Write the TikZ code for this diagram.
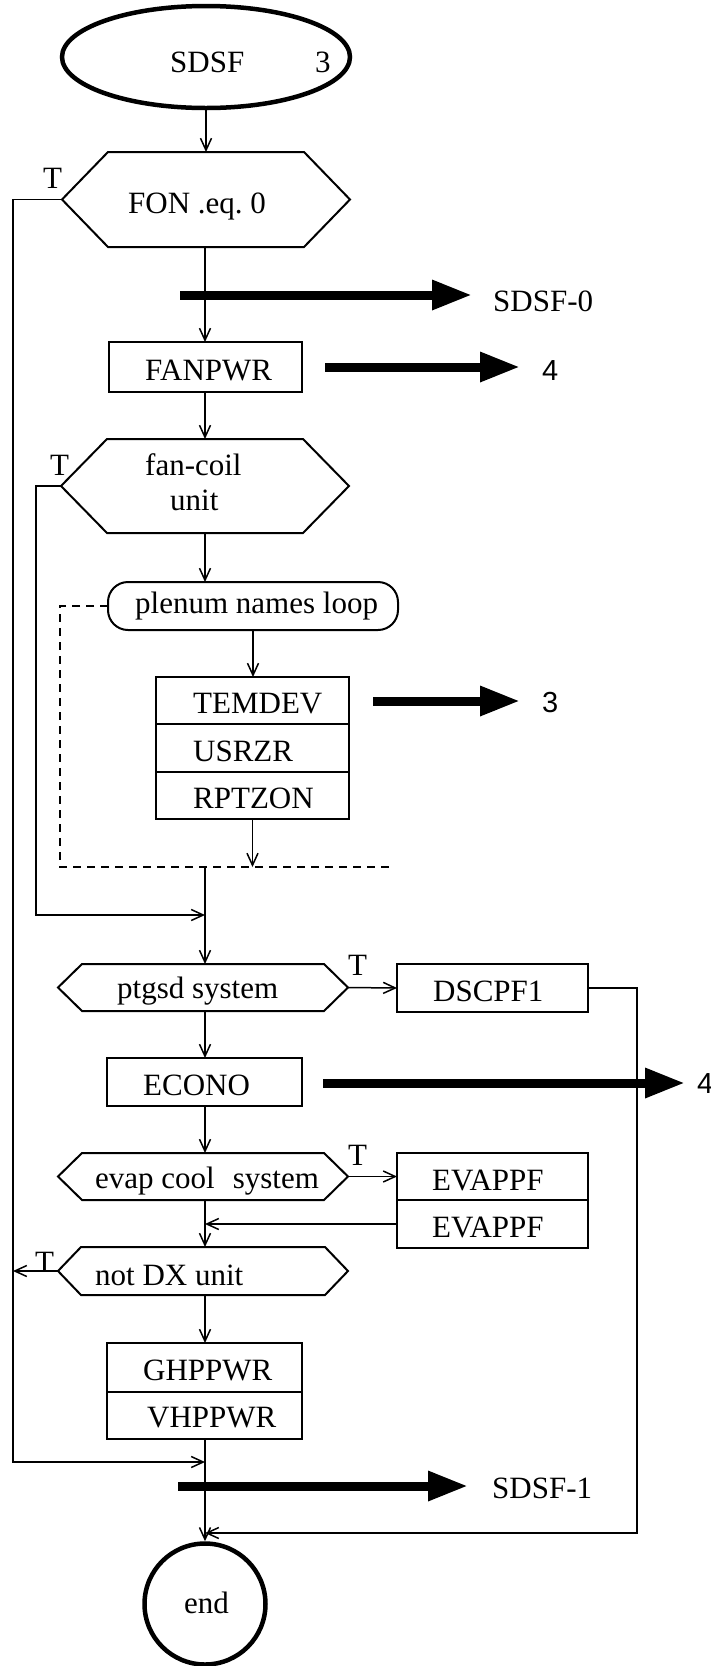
\documentclass[tikz,border=0pt]{standalone}
\usepackage{fontspec}
\setmainfont{Liberation Serif}
\newfontfamily\digsans{Liberation Sans}
\usetikzlibrary{arrows.meta,shapes.geometric}
\newcommand\hexdraw[2]{\draw[hexline] (#1.west) -- ([xshift=#2]#1.north west) -- ([xshift=-#2]#1.north east) -- (#1.east) -- ([xshift=-#2]#1.south east) -- ([xshift=#2]#1.south west) -- cycle;}
\begin{document}
\begin{tikzpicture}[x=1pt,y=-1pt,
  txt/.style={anchor=base west, inner sep=0pt, font=\fontsize{31}{37}\selectfont},
  dig/.style={anchor=base west, inner sep=0pt, font=\digsans\fontsize{29}{35}\selectfont},
  box/.style={draw, line width=2pt, inner sep=0pt, outer sep=0pt},
  hexbase/.style={draw=none, inner sep=0pt, outer sep=0pt},
  hexline/.style={line width=2pt, line join=miter},
  arr/.style={line width=1.5pt, -{Straight Barb[length=12pt,width=11pt,line width=1.5pt]}},
  dashline/.style={line width=2pt, dash pattern=on 8pt off 6pt},
  fat/.style={line width=9pt, -{Triangle[length=40pt,width=28pt]}},
  term/.style={draw, line width=4.5pt, inner sep=0pt},
]
\useasboundingbox (0,0) rectangle (711,1666);
\coordinate (col) at (205,0);

% start terminal
\node[term, ellipse, minimum width=288pt, minimum height=102pt] (start) at (206,57) {};
\node[txt] (startlab) at (170,72) {SDSF};
\node[txt] (startnum) at (315,72) {3};

% FON .eq. 0
\node[hexbase, minimum width=288pt, minimum height=95pt] (fon) at (206,199.5) {};
\hexdraw{fon}{46pt}
\node[txt] (fontxt) at (128,213) {FON .eq.\ 0};
\node[txt] (t1) at (43,188) {T};

% SDSF-0
\coordinate (a0s) at (180,295);
\coordinate (a0e) at (472,295);
\draw[fat] (a0s) -- (a0e);
\node[txt] (sdsf0) at (493,311) {SDSF-0};

% FANPWR
\node[box, minimum width=193pt, minimum height=50pt] (fanpwr) at (205.5,367) {};
\node[txt] (fanpwrtxt) at (145,380) {FANPWR};
\coordinate (a1s) at (325,367);
\coordinate (a1e) at (520,367);
\draw[fat] (a1s) -- (a1e);
\node[dig] (four1) at (542,380) {4};

% fan-coil unit
\node[hexbase, minimum width=288pt, minimum height=94pt] (fancoil) at (205,486) {};
\hexdraw{fancoil}{46pt}
\node[txt] (fctxt1) at (145,475) {fan-coil};
\node[txt] (fctxt2) at (170,510) {unit};
\node[txt] (t2) at (50,475) {T};

% plenum names loop
\node[box, rounded corners=20pt, minimum width=290pt, minimum height=48pt] (plenum) at (253,606) {};
\node[txt] (plentxt) at (135,613) {plenum names loop};

% TEMDEV / USRZR / RPTZON
\node[box, minimum width=193pt, minimum height=47pt] (temdev) at (252.5,700.5) {};
\node[box, minimum width=193pt, minimum height=48pt] (usrzr) at (252.5,748) {};
\node[box, minimum width=193pt, minimum height=47pt] (rptzon) at (252.5,795.5) {};
\node[txt] (temdevtxt) at (193,713) {TEMDEV};
\node[txt] (usrzrtxt) at (193,761) {USRZR};
\node[txt] (rptzontxt) at (193,808) {RPTZON};
\coordinate (a2s) at (373,701);
\coordinate (a2e) at (520,701);
\draw[fat] (a2s) -- (a2e);
\node[dig] (three1) at (542,712) {3};

% dashed loop
\coordinate (dashc) at (60,867);
\coordinate (dashend) at (392,867);
\draw[dashline] (plenum.west) -| (dashc) -- (dashend);

% ptgsd system
\node[hexbase, minimum width=290pt, minimum height=47pt] (ptgsd) at (203,987.5) {};
\hexdraw{ptgsd}{24pt}
\node[txt] (ptgsdtxt) at (117,998) {ptgsd system};
\node[txt] (t3) at (348,975) {T};
\node[box, minimum width=191pt, minimum height=48pt] (dscpf1) at (492.5,988) {};
\node[txt] (dscpf1txt) at (433,1001) {DSCPF1};

% ECONO
\node[box, minimum width=195pt, minimum height=48pt] (econo) at (204.5,1082) {};
\node[txt] (econotxt) at (143,1095) {ECONO};
\coordinate (a3s) at (323,1083);
\coordinate (a3e) at (685,1083);
\draw[fat] (a3s) -- (a3e);
\node[dig] (four2) at (697,1093) {4};

% evap cool system
\node[hexbase, minimum width=290pt, minimum height=47pt] (evap) at (203,1176.5) {};
\hexdraw{evap}{24pt}
\node[txt] (evaptxt) at (95,1188) {evap cool\hspace{18pt}system};
\node[txt] (t4) at (348,1165) {T};
\node[box, minimum width=191pt, minimum height=47pt] (evappf1) at (492.5,1176.5) {};
\node[box, minimum width=191pt, minimum height=48pt] (evappf2) at (492.5,1224) {};
\node[txt] (ev1txt) at (432,1190) {EVAPPF};
\node[txt] (ev2txt) at (432,1237) {EVAPPF};

% not DX unit
\node[hexbase, minimum width=290pt, minimum height=48pt] (notdx) at (203,1271) {};
\hexdraw{notdx}{23pt}
\node[txt] (notdxtxt) at (95,1285) {not DX unit};
\node[txt] (t5) at (35,1272) {T};

% GHPPWR / VHPPWR
\node[box, minimum width=195pt, minimum height=49pt] (ghppwr) at (204.5,1367.5) {};
\node[box, minimum width=195pt, minimum height=47pt] (vhppwr) at (204.5,1415.5) {};
\node[txt] (ghtxt) at (143,1380) {GHPPWR};
\node[txt] (vhtxt) at (147,1427) {VHPPWR};

% SDSF-1
\coordinate (a4s) at (178,1486);
\coordinate (a4e) at (468,1486);
\draw[fat] (a4s) -- (a4e);
\node[txt] (sdsf1) at (492,1498) {SDSF-1};

% end
\node[term, circle, minimum size=121pt] (endc) at (205,1604) {};
\node[txt] (endtxt) at (184,1613) {end};

% junction coordinates
\coordinate (fcl) at (36,915);
\coordinate (fcj) at (205,915);
\coordinate (ol) at (13,1462);
\coordinate (oj) at (205,1462);
\coordinate (rr) at (637,1533);
\coordinate (rj) at (205,1533);

% connectors
\draw[arr] (start.south) -- (start.south |- fon.north);
\draw[arr] (col |- fon.south) -- (col |- fanpwr.north);
\draw[arr] (col |- fanpwr.south) -- (col |- fancoil.north);
\draw[arr] (col |- fancoil.south) -- (col |- plenum.north);
\draw[arr] (plenum.south) -- (plenum.south |- temdev.north);
\draw[arr] (rptzon.south) -- (rptzon.south |- dashend);
\draw[arr] (col |- dashend) -- (col |- ptgsd.north);
\draw[arr] (fancoil.west) -| (fcl) -- (fcj);
\draw[arr] (fon.west) -| (ol) -- (oj);
\draw[arr] (ptgsd.east) -- (dscpf1.west);
\draw[arr] (dscpf1.east) -| (rr) -- (rj);
\draw[arr] (col |- ptgsd.south) -- (col |- econo.north);
\draw[arr] (col |- econo.south) -- (col |- evap.north);
\draw[arr] (evap.east) -- (evappf1.west);
\draw[arr] (evappf2.west) -- (evappf2.west -| col);
\draw[arr] (col |- evap.south) -- (col |- notdx.north);
\draw[arr] (notdx.west) -- (notdx.west -| ol);
\draw[arr] (col |- notdx.south) -- (col |- ghppwr.north);
\draw[arr] (col |- vhppwr.south) -- (endc.north);
\end{tikzpicture}
\end{document}
